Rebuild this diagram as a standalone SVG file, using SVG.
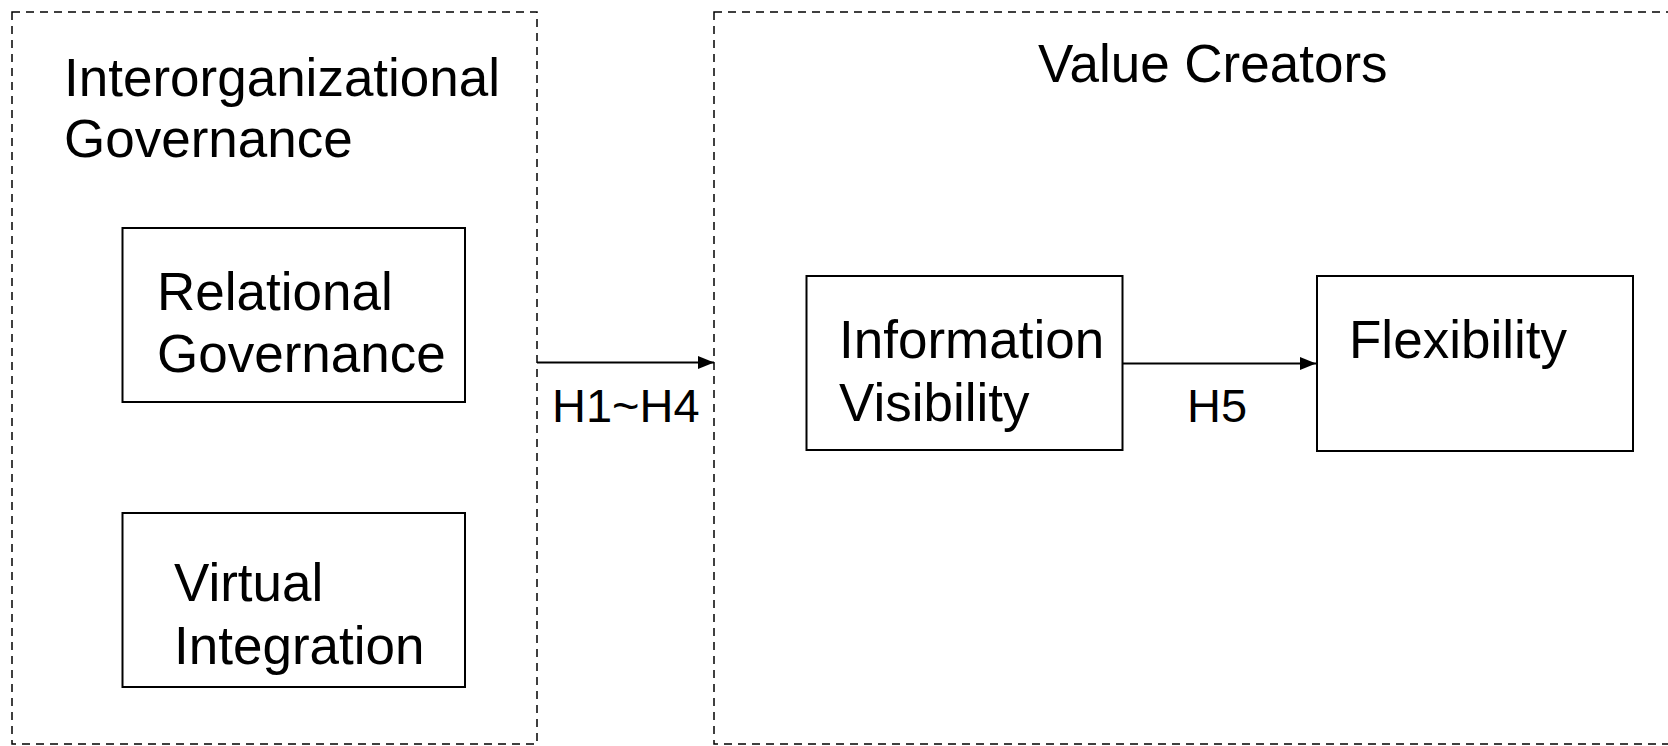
<svg xmlns="http://www.w3.org/2000/svg" width="1668" height="746" viewBox="0 0 1668 746">
<style>
.frame{fill:none;stroke:#000;stroke-width:1.5;stroke-dasharray:8 6}
.box{fill:#fff;stroke:#000;stroke-width:2}
.t{font-family:"Liberation Sans",Arial,sans-serif;font-size:53px;fill:#000}
.l{font-family:"Liberation Sans",Arial,sans-serif;font-size:47px;fill:#000}
.c{stroke:#000;stroke-width:2;fill:none}
</style>
<defs>
<marker id="ah" viewBox="0 0 16 13" refX="16" refY="6.5" markerWidth="16" markerHeight="13" markerUnits="userSpaceOnUse" orient="auto">
<path d="M0,0 L16,6.5 L0,13 z" fill="#000"/>
</marker>
</defs>
<rect width="1668" height="746" fill="#fff"/>
<g id="interorganizational-governance">
<rect class="frame" x="12" y="12" width="525" height="732"/>
<text class="t" x="64" y="96">Interorganizational</text>
<text class="t" x="64" y="157">Governance</text>
</g>
<g id="value-creators">
<rect class="frame" x="714" y="12" width="980" height="732"/>
<text class="t" x="1038" y="82">Value Creators</text>
</g>
<g id="relational-governance">
<rect class="box" x="122.5" y="228" width="342.5" height="174"/>
<text class="t" x="157" y="310">Relational</text>
<text class="t" x="157" y="372">Governance</text>
</g>
<g id="virtual-integration">
<rect class="box" x="122.5" y="513" width="342.5" height="174"/>
<text class="t" x="174" y="601">Virtual</text>
<text class="t" x="174" y="664">Integration</text>
</g>
<g id="information-visibility">
<rect class="box" x="806.5" y="276" width="316" height="174"/>
<text class="t" x="839" y="358">Information</text>
<text class="t" x="839" y="421">Visibility</text>
</g>
<g id="flexibility">
<rect class="box" x="1317" y="276" width="316" height="175"/>
<text class="t" x="1349" y="358">Flexibility</text>
</g>
<g id="connectors">
<line class="c" x1="537" y1="362.5" x2="714" y2="362.5" marker-end="url(#ah)"/>
<text class="l" x="552" y="422">H1~H4</text>
<line class="c" x1="1122.5" y1="363.5" x2="1316" y2="363.5" marker-end="url(#ah)"/>
<text class="l" x="1187" y="422">H5</text>
</g>
</svg>
